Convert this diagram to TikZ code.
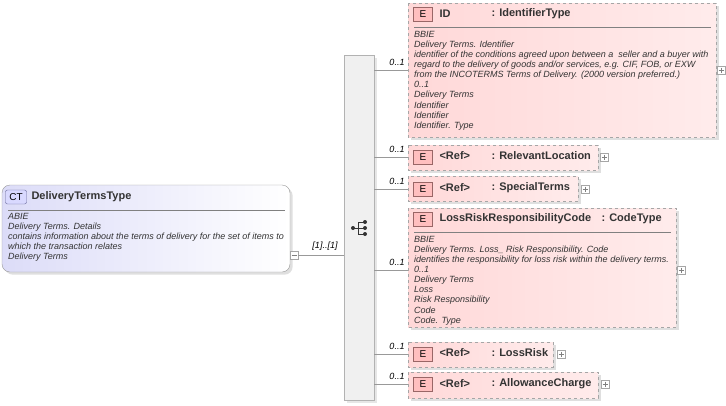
\documentclass[tikz,border=0pt]{standalone}
\usepackage{fontspec}
\setmainfont{Liberation Sans}
\usetikzlibrary{shadows}
\definecolor{eb}{HTML}{FFD8D8}
\definecolor{ctb}{HTML}{DCDCF8}
\begin{document}
\begin{tikzpicture}[x=1pt,y=-1pt,
 ebox/.style={draw=gray!70,dashed,left color=eb,right color=white!50!eb,drop shadow={opacity=.25}},
 ctbox/.style={draw=gray!80,rounded corners=8,left color=ctb,right color=white,drop shadow={opacity=.25}},
 tag/.style={draw=gray!80!red,fill=red!25,inner sep=1.5pt,minimum width=19,minimum height=14,font=\fontsize{10}{11}\selectfont},
 ttl/.style={anchor=west,font=\bfseries\fontsize{11}{12}\selectfont,text=black!80},
 desc/.style={anchor=north west,align=left,font=\itshape\fontsize{9}{10.1}\selectfont,text=black!80,inner sep=0},
 mult/.style={font=\itshape\fontsize{9}{9}\selectfont,anchor=south},
 pm/.style={draw=gray!70,fill=white,minimum size=8,inner sep=0},
 ln/.style={draw=gray!80}]
\useasboundingbox (0,0) rectangle (726,405);
% CT box
\path[ctbox] (2,185) rectangle (290,272);
\node[draw=gray!80!blue,fill=blue!15,rounded corners=2,inner sep=1.5pt,minimum width=21,minimum height=14,font=\fontsize{10}{11}\selectfont] (ct) at (16,197) {CT};
\node[ttl] (ctt) at (28,197) {DeliveryTermsType};
\draw[gray] (8,210) -- (285,210);
\node[desc] (ctd) at (8,213) {ABIE\\Delivery Terms. Details\\contains information about the terms of delivery for the set of items to\\which the transaction relates\\Delivery Terms};
\node[pm] (m0) at (294,255) {};
\draw[gray] (291.5,255) -- (296.5,255);
% sequence
\path[fill=gray!12,draw=gray!60,drop shadow={opacity=.2}] (344,55) rectangle (374,400);
\node[minimum width=30,minimum height=345] (seq) at (359,227.5) {};
\draw[ln] (m0.east) -- (344,255);
\node[mult] (l0) at (325,254) {[1]..[1]};
% sequence icon
\draw[gray!40!black] (353,228) -- (358,228) (358,222) -- (358,234) (358,222) -- (365,222) (358,228) -- (365,228) (358,234) -- (365,234);
\fill[gray!40!black] (353,228) circle (2) (365,222) circle (2) (365,228) circle (2) (365,234) circle (2);
% connectors
\foreach \y/\n in {70/a,157/b,189/c,270/d,354/e,384/f}{
 \coordinate (s\n) at (374,\y); \coordinate (t\n) at (408,\y);
 \draw[ln] (s\n) -- (t\n);
 \node[mult] (m\n) at (397,\y-1) {0..1};}
\tikzset{plus/.pic={\draw[gray] (-2.5,0) -- (2.5,0) (0,-2.5) -- (0,2.5);}}
% ID
\path[ebox] (408,3) rectangle (716,137);
\node[tag] (ea) at (423,14) {E};
\node[ttl] (na) at (436,14) {ID};
\node[ttl] (ta) at (488,14) {: IdentifierType};
\draw[gray] (414,27) -- (711,27);
\node[desc] (da) at (414,31) {BBIE\\Delivery Terms. Identifier\\identifier of the conditions agreed upon between a\ \ seller and a buyer with\\regard to the delivery of goods and/or services, e.g. CIF, FOB, or EXW\\from the INCOTERMS Terms of Delivery. (2000 version preferred.)\\0..1\\Delivery Terms\\Identifier\\Identifier\\Identifier. Type};
\node[pm] (pa) at (721,70) {}; \pic at (pa) {plus};
% RelevantLocation
\path[ebox] (408,145) rectangle (598,170);
\node[tag] (eb) at (423,157) {E};
\node[ttl] (nb) at (436,156) {<Ref>};
\node[ttl] (tb) at (488,156) {: RelevantLocation};
\node[pm] (pb) at (604,157) {}; \pic at (pb) {plus};
% SpecialTerms
\path[ebox] (408,176) rectangle (578,201);
\node[tag] (ec) at (423,189) {E};
\node[ttl] (nc) at (436,188) {<Ref>};
\node[ttl] (tc) at (488,188) {: SpecialTerms};
\node[pm] (pc) at (585,189) {}; \pic at (pc) {plus};
% LossRiskResponsibilityCode
\path[ebox] (408,208) rectangle (676,327);
\node[tag] (ed) at (423,219) {E};
\node[ttl] (nd) at (436,219) {LossRiskResponsibilityCode};
\node[ttl] (td) at (598,219) {: CodeType};
\draw[gray] (414,232) -- (671,232);
\node[desc] (dd) at (414,236) {BBIE\\Delivery Terms. Loss\_ Risk Responsibility. Code\\identifies the responsibility for loss risk within the delivery terms.\\0..1\\Delivery Terms\\Loss\\Risk Responsibility\\Code\\Code. Type};
\node[pm] (pd) at (681,270) {}; \pic at (pd) {plus};
% LossRisk
\path[ebox] (408,342) rectangle (553,367);
\node[tag] (ee) at (423,354) {E};
\node[ttl] (ne) at (436,353) {<Ref>};
\node[ttl] (te) at (488,353) {: LossRisk};
\node[pm] (pe) at (561,354) {}; \pic at (pe) {plus};
% AllowanceCharge
\path[ebox] (408,372) rectangle (598,398);
\node[tag] (ef) at (423,384) {E};
\node[ttl] (nf) at (436,384) {<Ref>};
\node[ttl] (tf) at (488,384) {: AllowanceCharge};
\node[pm] (pf) at (605,384) {}; \pic at (pf) {plus};
\end{tikzpicture}
\end{document}
